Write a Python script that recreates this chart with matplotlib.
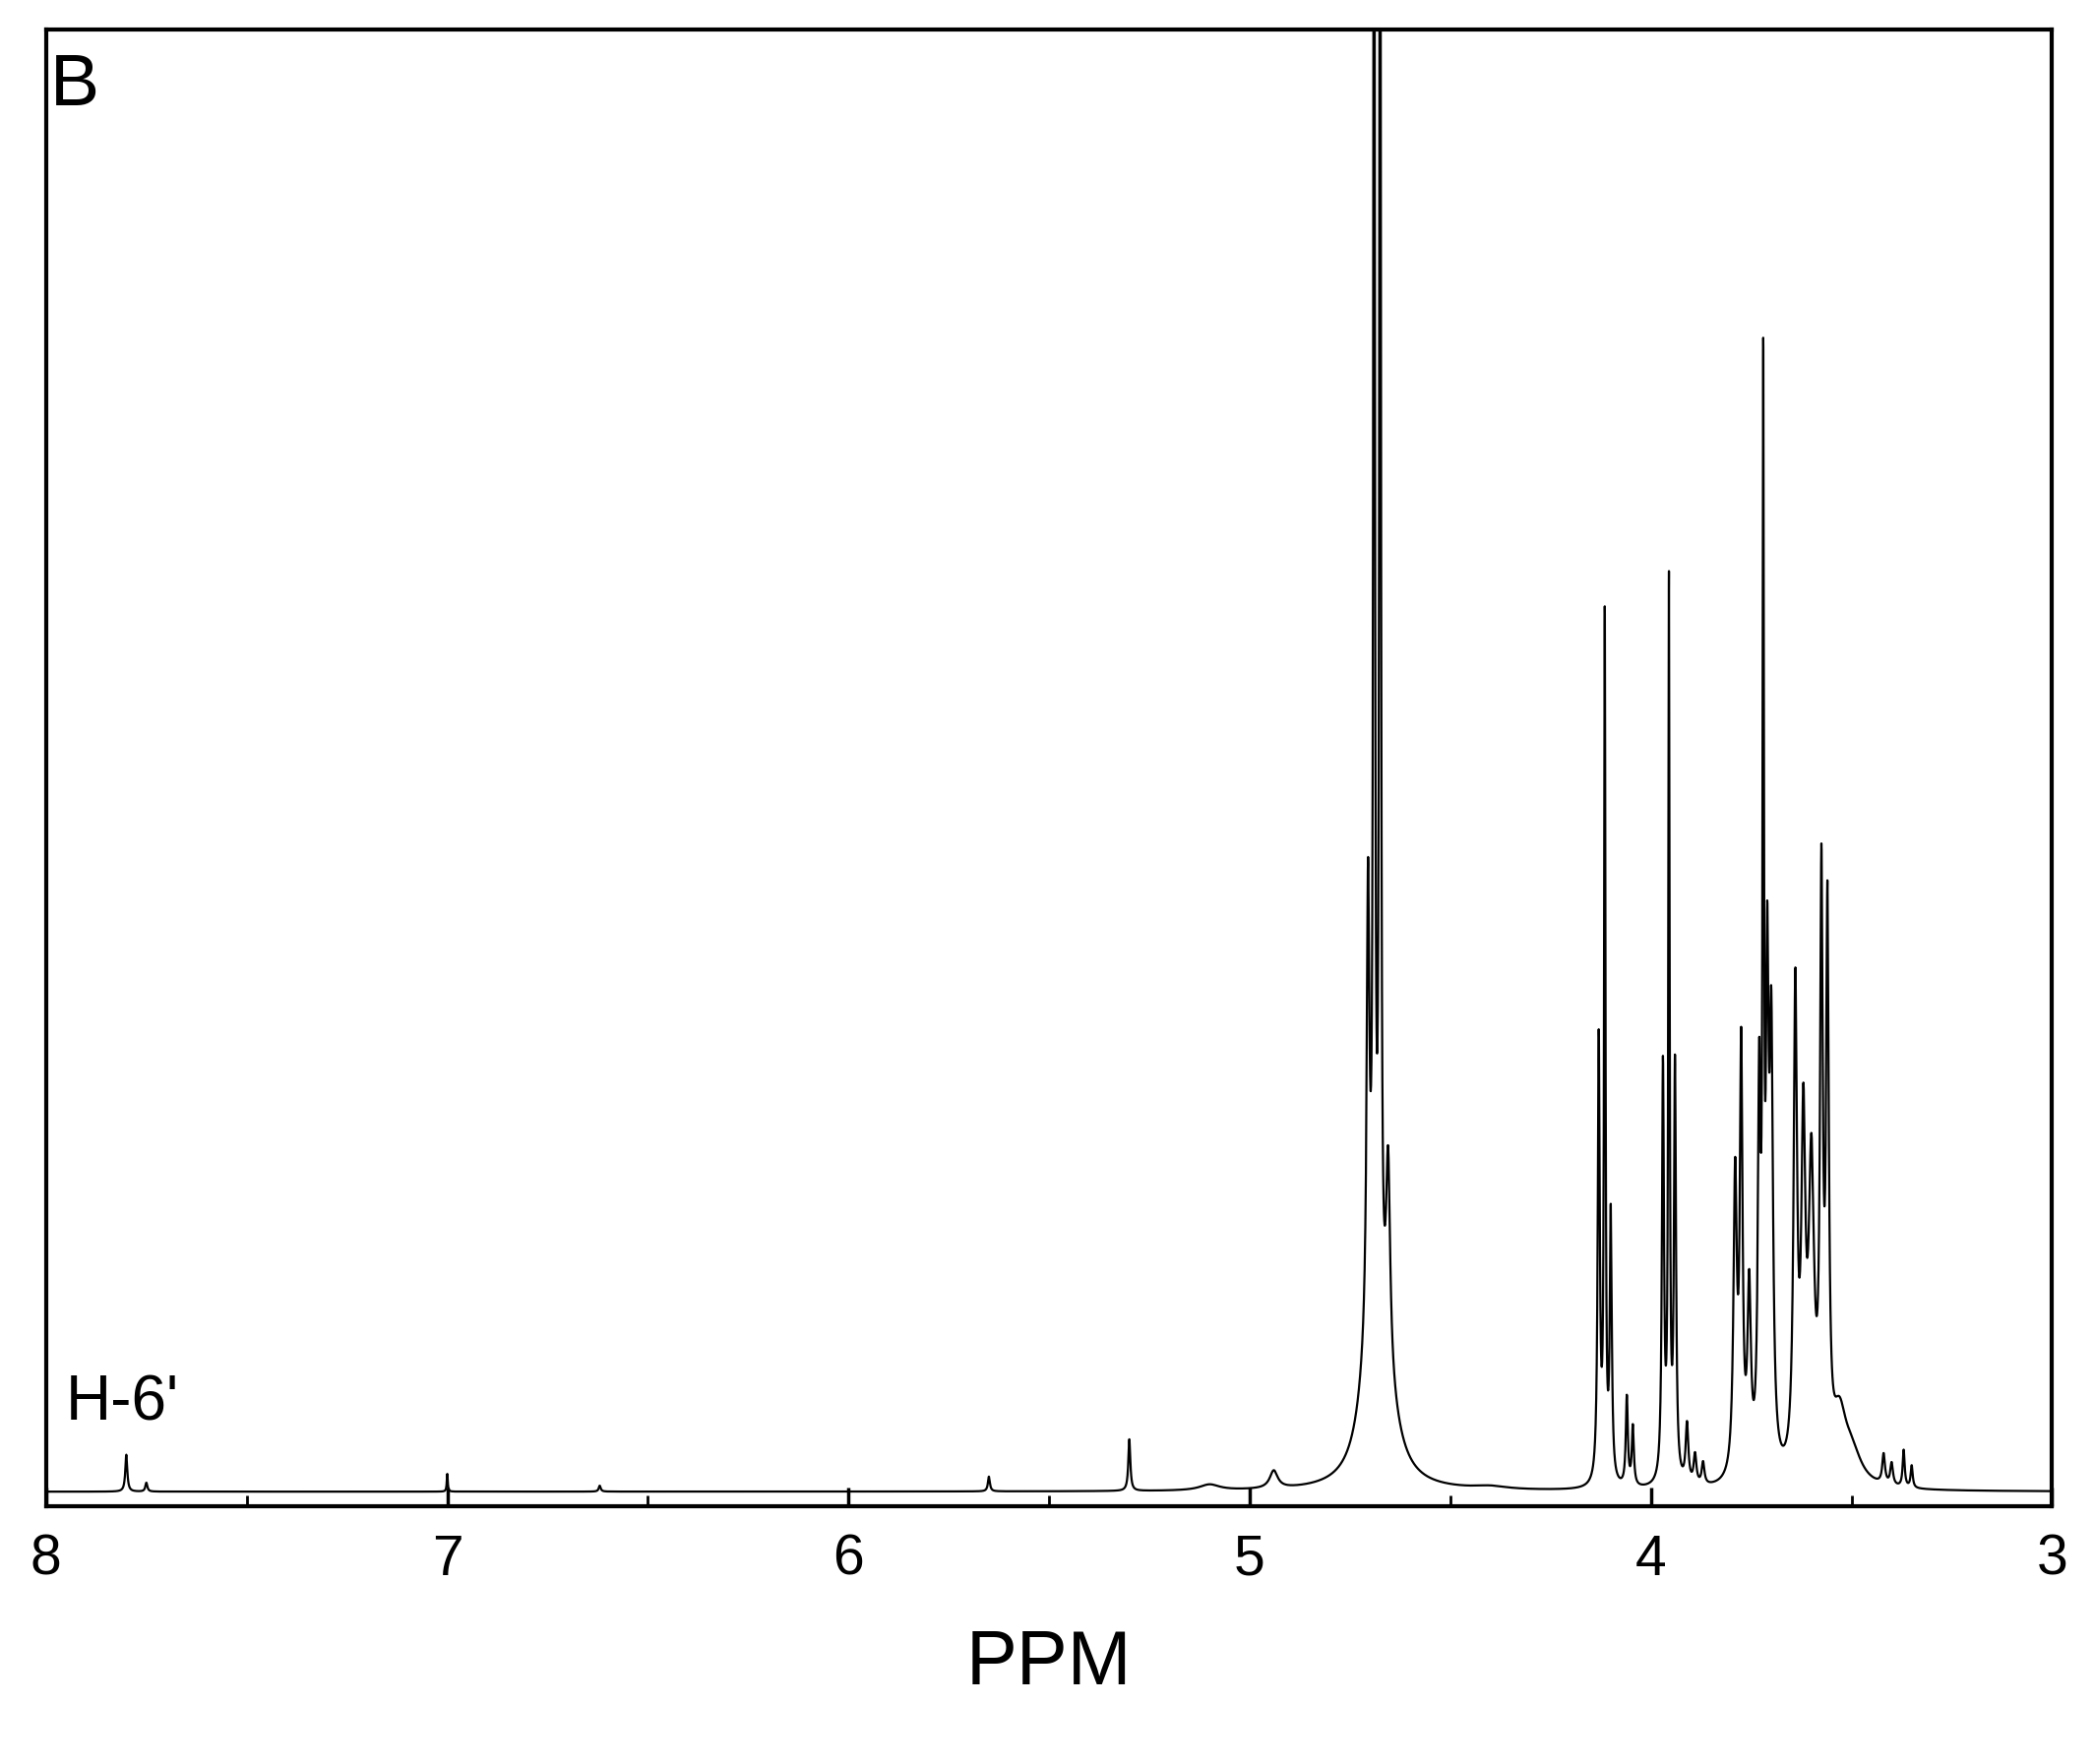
import numpy as np
import matplotlib.pyplot as plt

plt.rcParams['font.family'] = ['Liberation Sans', 'DejaVu Sans']

# peak list: position (ppm), height, half width (ppm)
pos = [7.80, 7.75, 7.00, 6.62, 5.65, 5.30, 5.10, 4.94, 4.40,
       4.705, 4.69, 4.675, 4.655, 4.70, 4.66,
       4.13, 4.115, 4.10, 4.06, 4.045,
       3.97, 3.955, 3.94, 3.91, 3.89, 3.87,
       3.79, 3.775, 3.755, 3.73, 3.72, 3.71, 3.70,
       3.64, 3.62, 3.60, 3.575, 3.56, 3.53, 3.50,
       3.42, 3.40, 3.37, 3.35]
hgt = [0.025, 0.006, 0.012, 0.004, 0.010, 0.035, 0.004, 0.012, 0.002,
       0.30, 1.4, 1.4, 0.14, 0.08, 0.05,
       0.30, 0.58, 0.18, 0.06, 0.04,
       0.28, 0.60, 0.28, 0.04, 0.02, 0.015,
       0.20, 0.28, 0.12, 0.25, 0.68, 0.30, 0.28,
       0.32, 0.22, 0.20, 0.38, 0.36, 0.04, 0.02,
       0.02, 0.015, 0.025, 0.015]
wid = [0.003, 0.003, 0.0015, 0.003, 0.003, 0.003, 0.03, 0.012, 0.05,
       0.004, 0.002, 0.002, 0.006, 0.03, 0.035,
       0.003, 0.002, 0.003, 0.003, 0.003,
       0.003, 0.002, 0.003, 0.004, 0.004, 0.004,
       0.005, 0.004, 0.005, 0.004, 0.002, 0.004, 0.005,
       0.005, 0.006, 0.008, 0.004, 0.004, 0.02, 0.03,
       0.004, 0.004, 0.003, 0.003]

x = np.linspace(3.0, 8.0, 20000)
y = np.full_like(x, 0.01)
for p, h, w in zip(pos, hgt, wid):
    y += h * w**2 / ((x - p)**2 + w**2)

fig = plt.figure(figsize=(21.28, 17.93), dpi=100)
ax = fig.add_axes([0.022, 0.146, 0.958, 0.837])
ax.plot(x, y, color='black', lw=1.6)
ax.set_xlim(8, 3)
ax.set_ylim(0, 1)
ax.set_yticks([])
ax.set_xticks([8, 7, 6, 5, 4, 3])
ax.set_xticks(np.arange(3.5, 8, 1.0), minor=True)
ax.tick_params(axis='x', which='major', direction='in', length=14, width=2.5,
               labelsize=41, pad=20)
ax.tick_params(axis='x', which='minor', direction='in', length=8, width=2)
for s in ax.spines.values():
    s.set_linewidth(3)
ax.set_xlabel('PPM', fontsize=56, labelpad=30)
ax.text(0.002, 0.985, 'B', transform=ax.transAxes, fontsize=54, va='top')
ax.text(7.95, 0.05, "H-6'", fontsize=46, va='bottom')

fig.savefig('out.png')
